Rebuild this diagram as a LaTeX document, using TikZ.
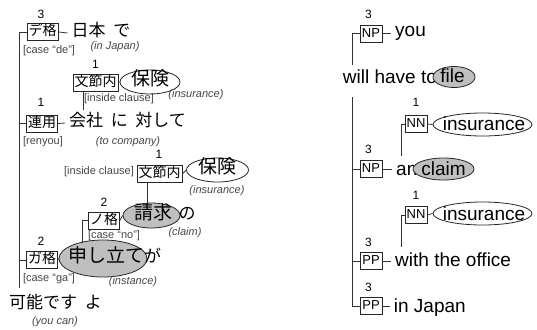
\documentclass[tikz,border=0pt]{standalone}
\usepackage{fontspec}
\setmainfont{Liberation Sans}
\newfontfamily\myjp{Noto Sans CJK JP}
\usetikzlibrary{shapes.geometric}
\newcommand\fJmain{\myjp\fontsize{17}{20}\selectfont}
\newcommand\fJbig{\myjp\fontsize{19}{22}\selectfont}
\newcommand\fJbox{\myjp\fontsize{14}{16}\selectfont}
\newcommand\fEbox{\fontsize{13}{15}\selectfont}
\newcommand\fEmain{\fontsize{19}{22}\selectfont}
\newcommand\fNum{\fontsize{12}{14}\selectfont}
\newcommand\fLab{\fontsize{11}{13}\selectfont}
\newcommand\fTr{\itshape\fontsize{11}{13}\selectfont}
\newcommand\jsp{\hspace{0.45em}}
\tikzset{
  ln/.style={draw=black!80, line width=0.8pt},
  bx/.style={draw=black!85, line width=0.8pt, fill=white, inner xsep=1.5pt, inner ysep=0pt,
    minimum height=17pt, text height=0.85em, text depth=0.1em, font=\fJbox},
  ebx/.style={draw=black!85, line width=0.8pt, fill=white, inner xsep=1pt, inner ysep=0pt,
    minimum height=17pt, minimum width=22pt, text height=0.72em, text depth=0em, font=\fEbox},
  num/.style={inner sep=0pt, font=\fNum, text height=.75em, text depth=.21em},
  lab/.style={inner sep=0pt, font=\fLab, text=black!72, text height=.75em, text depth=.21em},
  tr/.style={inner sep=0pt, font=\fTr, text=black!72, text height=.75em, text depth=.21em},
  jw/.style={anchor=west, inner xsep=4pt, inner ysep=0pt, text height=.88em, text depth=.12em, font=\fJmain},
  jin/.style={inner sep=0pt, text height=.88em, text depth=.12em, font=\fJbig},
  ew/.style={anchor=base west, inner xsep=4pt, inner ysep=0pt, font=\fEmain},
  ein/.style={anchor=base, inner sep=0pt, font=\fEmain},
  ov/.style={ellipse, draw=black!85, line width=0.8pt, inner sep=0pt},
  ovg/.style={ov, fill=black!25},
  ovw/.style={ov, fill=white},
}
\begin{document}
\begin{tikzpicture}[x=1pt,y=-1pt]
\useasboundingbox (0,0) rectangle (537,329);
\fill[white] (0,0) rectangle (537,329);

% ---------------- left tree ----------------
\node[num] (n3a) at (41,16) {3};
\node[bx] (deb) at (42.5,32) {デ格};
\node[jw] (nihon) at (67.5,33) {日本\jsp で};

\node[num] (n1a) at (95.5,66) {1};
\node[bx] (bun1) at (95.5,82.5) {文節内};
\node[ovw, minimum width=60pt, minimum height=24pt] (hoken1) at (150,82) {};
\node[jin] (hoken1t) at (hoken1) {保険};

\node[num] (n1b) at (41,104) {1};
\node[bx] (renyou) at (42,123.5) {連用};
\node[jw] (kaisha) at (65,123) {会社\jsp に\jsp 対して};

\node[num] (n1c) at (159,156) {1};
\node[bx] (bun2) at (159.5,174) {文節内};
\node[ovw, minimum width=62pt, minimum height=24pt] (hoken2) at (217.5,170) {};
\node[jin] (hoken2t) at (hoken2) {保険};

\node[num] (n2a) at (104,204) {2};
\node[bx] (nokaku) at (104,220.5) {ノ格};
\node[ovg, minimum width=57pt, minimum height=25pt] (seikyu) at (151.5,215.5) {};
\node[jin] (seikyut) at (153,215.5) {請求};
\node[jw] (no) at (174.5,216) {の};

\node[num] (n2b) at (41,243) {2};
\node[bx] (gakaku) at (42,260) {ガ格};
\node[ovg, minimum width=88pt, minimum height=37pt] (moushi) at (103,258.5) {};
\node[jin] (moushit) at (106,258.5) {申し立て};
\node[jw] (ga) at (140,259) {が};

\node[jw] (kanou) at (5,305) {可能です\jsp よ};

% left connectors
\coordinate (ltb) at (19.5,288);
\draw[ln] (deb.west) -| (ltb);
\draw[ln] (renyou.west) -- (renyou.west -| ltb);
\draw[ln] (gakaku.west) -- (gakaku.west -| ltb);
\draw[ln] (deb.east) -- (nihon.west);
\draw[ln] (renyou.east) -- (kaisha.west);
\draw[ln] (bun1.east) -- (hoken1.west);
\coordinate (k1) at (83,110);
\draw[ln] (bun1.south -| k1) -- (k1);
\draw[ln] (bun2.east) -- (hoken2.west);
\coordinate (s1) at (147,203.3);
\draw[ln] (bun2.south -| s1) -- (s1);
\draw[ln] (nokaku.east) -- (seikyu.west);
\coordinate (m1) at (82.7,242.5);
\draw[ln] (nokaku.west) -| (m1);
\draw[ln] (gakaku.east) -- (moushi.west);

% left labels (on top)
\node[lab] (lde) at (49,51) {[case “de”]};
\node[tr] (tnihon) at (115,47) {(in Japan)};
\node[lab] (lin1) at (119,99) {[inside clause]};
\node[tr] (thoken1) at (196,95) {(insurance)};
\node[lab] (lren) at (43,142) {[renyou]};
\node[tr] (tkaisha) at (128,142) {(to company)};
\node[lab] (lin2) at (99,172) {[inside clause]};
\node[tr] (thoken2) at (217,191) {(insurance)};
\node[lab] (lno) at (114,236) {[case “no”]};
\node[tr] (tseikyu) at (185,233) {(claim)};
\node[lab] (lga) at (49,279) {[case “ga”]};
\node[tr] (tmoushi) at (133,282) {(instance)};
\node[tr] (tkanou) at (55,322) {(you can)};

% ---------------- right tree ----------------
\node[num] (r3a) at (368.5,16) {3};
\node[ebx] (np1) at (371,33.5) {NP};
\node[ew] (you) at (391,36.7) {you};

\node[ew] (will) at (338.7,83) {will have to};
\node[ovg, minimum width=42pt, minimum height=21pt] (file) at (454,77) {};
\node[ein] (filet) at (452.5,82.7) {file};

\node[num] (r1a) at (416,104) {1};
\node[ebx] (nn1) at (416,124) {NN};
\node[ovw, minimum width=99pt, minimum height=23pt] (ins1) at (482.5,124.5) {};
\node[ein] (ins1t) at (484,130.5) {insurance};

\node[num] (r3b) at (368.5,151) {3};
\node[ebx] (np2) at (371,169) {NP};
\node[ew] (an) at (392,175) {an};
\node[ovg, minimum width=61pt, minimum height=22pt] (claim) at (443.5,169) {};
\node[ein] (claimt) at (443.5,175) {claim};

\node[num] (r1b) at (416,197) {1};
\node[ebx] (nn2) at (416,215) {NN};
\node[ovw, minimum width=99pt, minimum height=23pt] (ins2) at (482.5,213.5) {};
\node[ein] (ins2t) at (484,220.5) {insurance};

\node[num] (r3c) at (368.5,244) {3};
\node[ebx] (pp1) at (371,261) {PP};
\node[ew] (with) at (391,266.7) {with the office};

\node[num] (r3d) at (368.5,289) {3};
\node[ebx] (pp2) at (371,306) {PP};
\node[ew] (injp) at (389.7,312) {in Japan};

% right connectors
\coordinate (rt1) at (352,65);
\coordinate (rt2) at (352,97);
\draw[ln] (np1.west) -| (rt1);
\draw[ln] (rt2) |- (pp2.west);
\draw[ln] (np2.west) -- (np2.west -| rt2);
\draw[ln] (pp1.west) -- (pp1.west -| rt2);
\draw[ln] (np1.east) -- (np1.east -| you.west);
\draw[ln] (np2.east) -- (np2.east -| an.west);
\draw[ln] (pp1.east) -- (pp1.east -| with.west);
\draw[ln] (pp2.east) -- (pp2.east -| injp.west);
\coordinate (q1) at (401,156);
\draw[ln] (nn1.west) -| (q1);
\draw[ln] (nn1.east) -- (ins1.west);
\coordinate (q2) at (401,247);
\draw[ln] (nn2.west) -| (q2);
\draw[ln] (nn2.east) -- (ins2.west);
\end{tikzpicture}
\end{document}
